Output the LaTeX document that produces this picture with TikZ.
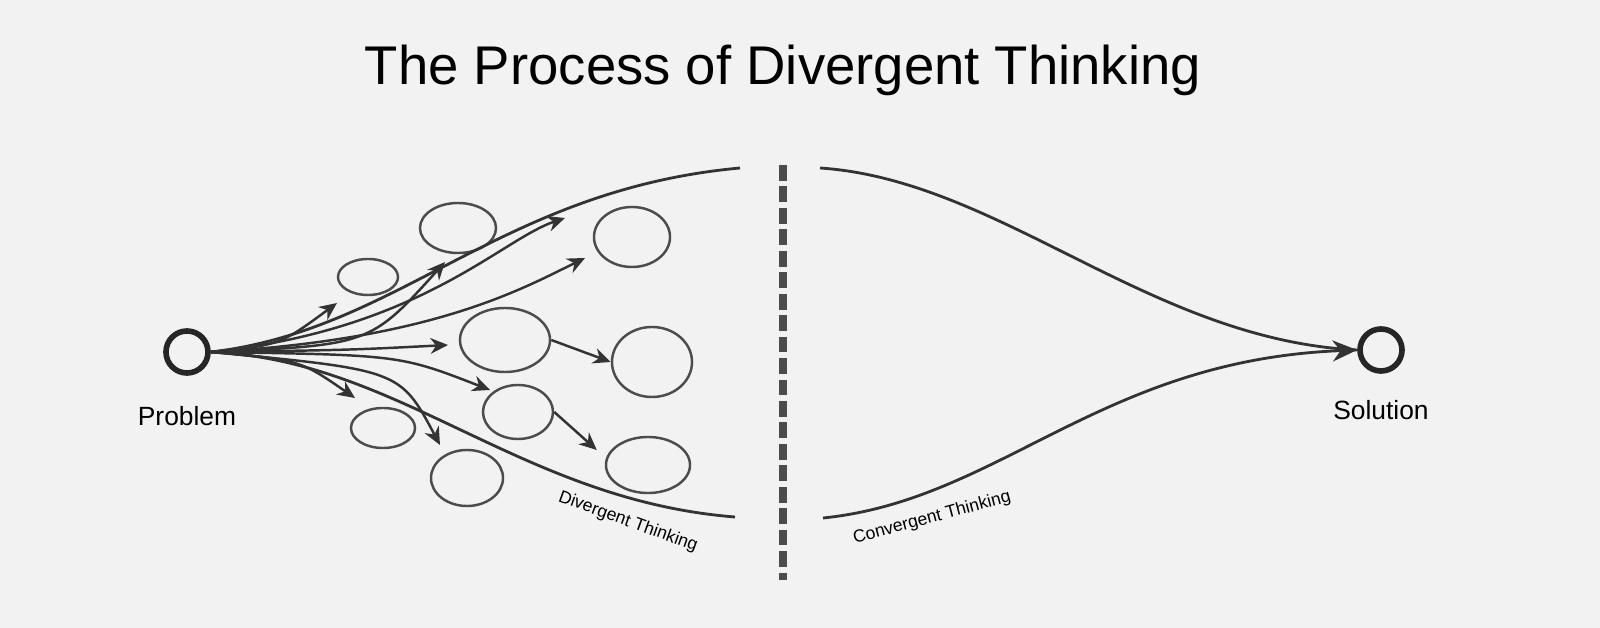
\documentclass[tikz,border=0pt]{standalone}
\usepackage{fontspec}
\setmainfont{Liberation Sans}
\usetikzlibrary{arrows.meta,shapes.geometric,calc}
\begin{document}
\begin{tikzpicture}[x=0.01cm,y=-0.01cm,
  ink/.style={draw=black!80,line width=0.7pt},
  idea/.style={ellipse,draw=black!70,line width=0.7pt,inner sep=0pt},
  arr/.style={ink,-{Stealth[length=5pt,width=4.5pt]}},
  flow/.style={draw=black!80,line width=0.8pt}]
\useasboundingbox (0,0) rectangle (1600,628);
\fill[white!95!black] (0,0) rectangle (1600,628);
\node (title) at (783,70) {\fontsize{15.5pt}{18pt}\selectfont The Process of Divergent Thinking};
\node[circle,draw=black!85,line width=1.6pt,inner sep=0pt,minimum size=0.42cm] (p) at (187,352) {};
\node[circle,draw=black!85,line width=1.6pt,inner sep=0pt,minimum size=0.42cm] (s) at (1381,350) {};
\node (pl) at (187,416) {\fontsize{7.5pt}{9pt}\selectfont Problem};
\node (sl) at (1381,410) {\fontsize{7.5pt}{9pt}\selectfont Solution};
% ideas
\node[idea,minimum width=0.6cm,minimum height=0.36cm] (c1) at (368,277) {};
\node[idea,minimum width=0.76cm,minimum height=0.5cm] (c2) at (458,228) {};
\node[idea,minimum width=0.76cm,minimum height=0.6cm] (c3) at (632,237) {};
\node[idea,minimum width=0.9cm,minimum height=0.64cm] (c4) at (505,340) {};
\node[idea,minimum width=0.8cm,minimum height=0.7cm] (c5) at (652,362) {};
\node[idea,minimum width=0.7cm,minimum height=0.54cm] (c6) at (518,412) {};
\node[idea,minimum width=0.64cm,minimum height=0.4cm] (c7) at (383,428) {};
\node[idea,minimum width=0.72cm,minimum height=0.56cm] (c8) at (467,478) {};
\node[idea,minimum width=0.84cm,minimum height=0.56cm] (c9) at (648,465) {};
% divergent flows
\coordinate (dt) at (740,168);
\coordinate (db) at (735,517);
\draw[flow] (p.east) .. controls (400,330) and (500,190) .. (dt);
\draw[flow] (p.east) .. controls (400,360) and (520,500) .. (db);
\coordinate (a1) at (337,303); \coordinate (a2) at (445,262);
\coordinate (a3) at (565,218); \coordinate (a4) at (585,258);
\coordinate (a5) at (448,345); \coordinate (a6) at (490,390);
\coordinate (a7) at (355,398); \coordinate (a8) at (440,445);
\draw[arr] (p.east) .. controls (280,345) .. (a1);
\draw[arr] (p.east) .. controls (370,345) .. (a2);
\draw[arr] (p.east) .. controls (420,330) and (500,240) .. (a3);
\draw[arr] (p.east) .. controls (430,340) and (520,290) .. (a4);
\draw[arr] (p.east) .. controls (350,350) .. (a5);
\draw[arr] (p.east) .. controls (400,355) .. (a6);
\draw[arr] (p.east) .. controls (300,360) .. (a7);
\draw[arr] (p.east) .. controls (400,370) .. (a8);
\draw[arr] (c4.east) -- (c5.west);
\draw[arr] (c6.east) -- ($(c9.west)+(-8,-15)$);
\node[rotate=-20] (dl) at (628,522) {\fontsize{5pt}{6pt}\selectfont Divergent Thinking};
% divider
\coordinate (v1) at (783,165); \coordinate (v2) at (783,580);
\draw[black!70,line width=2pt,dash pattern=on 4.5pt off 1.6pt] (v1) -- (v2);
% convergent
\coordinate (ct) at (820,168);
\coordinate (cb) at (823,518);
\draw[flow] (ct) .. controls (1000,180) and (1150,340) .. (s.west);
\draw[flow,-{Stealth[length=7pt,width=6pt]}] (cb) .. controls (1000,500) and (1100,360) .. (s.west);
\node[rotate=15] (cl) at (932,518) {\fontsize{5pt}{6pt}\selectfont Convergent Thinking};
\end{tikzpicture}
\end{document}
